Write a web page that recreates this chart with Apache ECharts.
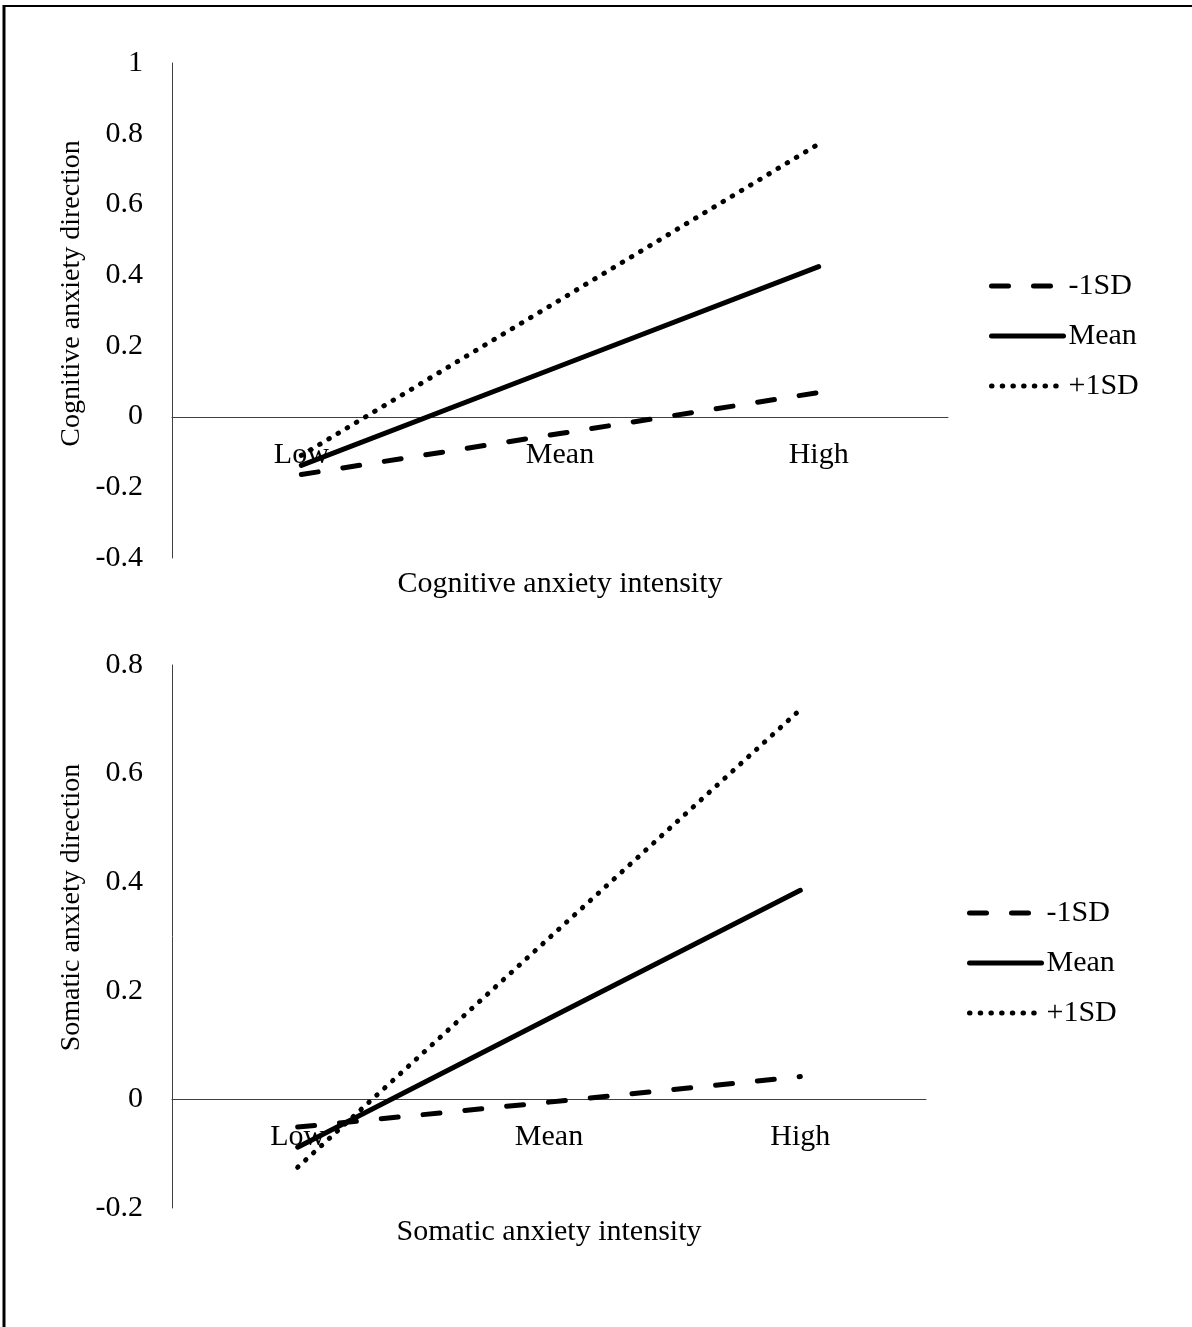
<!DOCTYPE html>
<html>
<head>
<meta charset="utf-8">
<title>Anxiety intensity x direction</title>
<script src="https://cdn.jsdelivr.net/npm/echarts@6.0.0/dist/echarts.min.js"></script>
<style>
	html, body { margin: 0; padding: 0; background: #fff; }
	#chart { width: 1192px; height: 1327px; }
</style>
</head>
<body>
<div id="chart"></div>
<script>
// categories on the x axis
var categories = [ 'Low', 'Mean', 'High' ];
var seriesNames = [ '-1SD', 'Mean', '+1SD' ];

// cognitive anxiety (top panel)
var cogMinus = [ -0.164, -0.048, 0.068 ];
var cogMean = [ -0.138, 0.143, 0.424 ];
var cogPlus = [ -0.110, 0.330, 0.771 ];

// somatic anxiety (bottom panel)
var somMinus = [ -0.051, -0.005, 0.042 ];
var somMean = [ -0.088, 0.149, 0.385 ];
var somPlus = [ -0.125, 0.297, 0.718 ];

var FONT = "'Liberation Serif', 'Times New Roman', serif";
var FS = 30;

var lineStyles = [
	{ type : [ 17, 25 ], width : 5, color : '#000', cap : 'round' },	// dashed
	{ type : 'solid', width : 5, color : '#000', cap : 'round' },		// solid
	{ type : [ 0.5, 10.2 ], width : 5, color : '#000', cap : 'round' }	// dotted
];

// x axis sits on the zero line (offset moves it up from the grid bottom)
function makeXAxis(gridIndex, name, nameGap, offset) {
	return {
		type : 'category',
		gridIndex : gridIndex,
		data : categories,
		boundaryGap : true,
		offset : offset,
		name : name,
		nameLocation : 'middle',
		nameGap : nameGap,
		nameMoveOverlap : false,
		nameTextStyle : { fontFamily : FONT, fontSize : FS, color : '#000' },
		axisLine : { onZero : false, lineStyle : { color : '#404040', width : 1 } },
		axisTick : { show : false },
		axisLabel : { margin : 23, fontFamily : FONT, fontSize : FS, color : '#000' },
		splitLine : { show : false }
	};
}

function makeYAxis(gridIndex, name, min, max, pad) {
	return {
		type : 'value',
		gridIndex : gridIndex,
		min : min,
		max : max,
		interval : 0.2,
		name : name,
		nameLocation : 'middle',
		nameGap : 86,
		nameRotate : 90,
		nameMoveOverlap : false,
		nameTextStyle : { fontFamily : FONT, fontSize : 28, color : '#000', padding : pad },
		axisLine : { show : true, onZero : false, lineStyle : { color : '#404040', width : 1 } },
		axisTick : { show : false },
		axisLabel : { margin : 29, fontFamily : FONT, fontSize : FS, color : '#000' },
		splitLine : { show : false }
	};
}

function makeSeries(idx, data, styleIdx) {
	return {
		name : seriesNames[styleIdx],
		type : 'line',
		xAxisIndex : idx,
		yAxisIndex : idx,
		data : data,
		symbol : 'none',
		animation : false,
		lineStyle : lineStyles[styleIdx]
	};
}

function makeLegend(left, top) {
	var items = [];
	for (var i = 0; i < seriesNames.length; i++) {
		items.push({
			name : seriesNames[i],
			itemStyle : { opacity : 0 },
			lineStyle : lineStyles[i]
		});
	}
	return {
		orient : 'vertical',
		left : left,
		top : top,
		itemWidth : 72,
		itemHeight : 14,
		itemGap : 16,
		selectedMode : false,
		textStyle : { fontFamily : FONT, fontSize : FS, color : '#000', lineHeight : 34 },
		data : items
	};
}

var myChart = echarts.init(document.getElementById('chart'));
var option = {
	backgroundColor : '#fff',
	animation : false,
	grid : [
		{ left : 172, top : 63, width : 776, height : 495, outerBoundsMode : 'none', containLabel : false },
		{ left : 172, top : 665, width : 754, height : 543, outerBoundsMode : 'none', containLabel : false }
	],
	xAxis : [
		makeXAxis(0, 'Cognitive anxiety intensity', 152, -141),
		makeXAxis(1, 'Somatic anxiety intensity', 118, -109)
	],
	yAxis : [
		makeYAxis(0, 'Cognitive anxiety direction', -0.4, 1, [ 0, 0, 0, 34 ]),
		makeYAxis(1, 'Somatic anxiety direction', -0.2, 0.8, [ 0, 0, 0, 58 ])
	],
	legend : [
		makeLegend(984, 264),
		makeLegend(962, 891)
	],
	series : [
		makeSeries(0, cogMinus, 0),
		makeSeries(0, cogMean, 1),
		makeSeries(0, cogPlus, 2),
		makeSeries(1, somMinus, 0),
		makeSeries(1, somMean, 1),
		makeSeries(1, somPlus, 2)
	],
	// outer frame of the figure
	graphic : [
		{ type : 'line', shape : { x1 : 4, y1 : 6, x2 : 1192, y2 : 6 }, style : { stroke : '#000', lineWidth : 2 } },
		{ type : 'line', shape : { x1 : 4, y1 : 5, x2 : 4, y2 : 1327 }, style : { stroke : '#000', lineWidth : 3 } }
	]
};
myChart.setOption(option);
</script>
</body>
</html>
